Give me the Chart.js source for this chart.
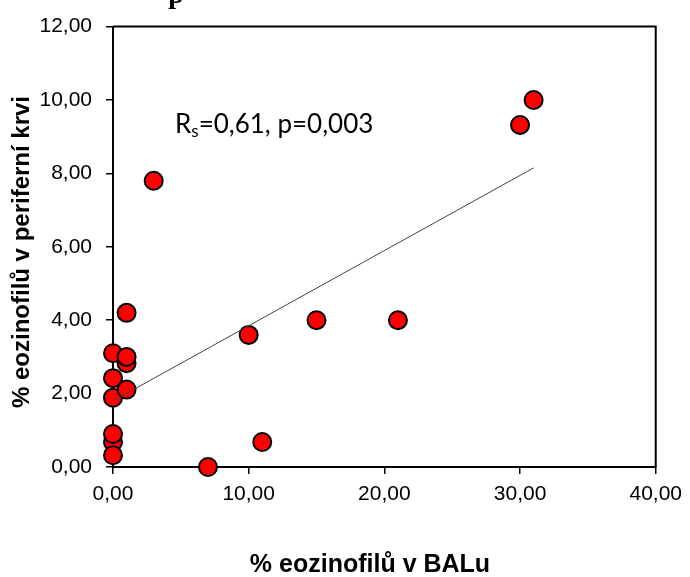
<!DOCTYPE html>
<html><head><meta charset="utf-8">
<script src="https://cdn.jsdelivr.net/npm/chart.js@4/dist/chart.umd.min.js"></script>
<style>html,body{margin:0;padding:0;background:#fff}#wrap{width:690px;height:577px;position:relative}</style>
</head><body><div id="wrap"><canvas id="c"></canvas></div>
<script>
// Data
const balX  = [0, 0, 0, 0, 0, 0, 1, 1, 1, 1, 3, 7, 11, 10, 15, 21, 30, 31];
const krevY = [0.68, 0.32, 0.9, 1.89, 2.42, 3.1, 2.83, 3.0, 2.11, 4.2, 7.8, 0.0, 0.68, 3.6, 4.0, 4.0, 9.32, 10.0];
const trendX = [0, 31];
const trendY = [1.8, 8.15];
const xRange = [0, 40];
const yRange = [0, 12];
const xStep = 10;
const yStep = 2;
const xTitle = '% eozinofilů v BALu';
const yTitle = '% eozinofilů v periferní krvi';
const statMain = 'R';
const statSub = 's';
const statRest = '=0,61, p=0,003';
const chartTitle = 'p';

const fmt = v => Number(v).toFixed(2).replace('.', ',');

const points = balX.map((x, i) => ({x: x, y: krevY[i]}));
const trend = trendX.map((x, i) => ({x: x, y: trendY[i]}));

const extras = {
  id: 'extras',
  beforeDatasetsDraw(chart) {
    const {ctx, chartArea: a} = chart;
    ctx.save();
    ctx.strokeStyle = '#000';
    ctx.lineWidth = 2;
    ctx.beginPath();
    ctx.moveTo(a.left, a.top);
    ctx.lineTo(a.right, a.top);
    ctx.lineTo(a.right, a.bottom);
    ctx.stroke();
    ctx.restore();
  },
  afterDraw(chart) {
    const {ctx} = chart;
    ctx.save();
    ctx.fillStyle = '#000';
    // axis titles
    ctx.font = 'bold 25px "Liberation Sans", Arial, sans-serif';
    ctx.textAlign = 'center';
    ctx.textBaseline = 'middle';
    ctx.fillText(xTitle, 370, 565);
    ctx.save();
    ctx.translate(22, 252);
    ctx.rotate(-Math.PI / 2);
    ctx.font = 'bold 24px "Liberation Sans", Arial, sans-serif';
    ctx.fillText(yTitle, 0, 0);
    ctx.restore();
    // statistic annotation
    ctx.textAlign = 'left';
    ctx.textBaseline = 'alphabetic';
    let x = 175, y = 133;
    ctx.font = '26px Lato, "Open Sans", sans-serif';
    ctx.fillText(statMain, x, y);
    x += ctx.measureText(statMain).width;
    ctx.font = '17px Lato, "Open Sans", sans-serif';
    ctx.fillText(statSub, x, y + 4);
    x += ctx.measureText(statSub).width;
    ctx.font = '26px Lato, "Open Sans", sans-serif';
    ctx.fillText(statRest, x, y);
    // cut-off title
    ctx.textAlign = 'center';
    ctx.font = 'bold 28px "Liberation Serif", serif';
    ctx.fillText(chartTitle, 176, 3);
    ctx.restore();
  }
};

new Chart(document.getElementById('c'), {
  type: 'scatter',
  data: {
    datasets: [
      {
        label: 'body',
        data: points,
        backgroundColor: '#FF0000',
        borderColor: '#000',
        borderWidth: 2,
        pointRadius: 9,
        pointHoverRadius: 9,
        clip: false,
        order: 1
      },
      {
        type: 'line',
        label: 'trend',
        data: trend,
        borderColor: '#444',
        borderWidth: 1,
        pointRadius: 0,
        fill: false,
        order: 0
      }
    ]
  },
  options: {
    responsive: true,
    maintainAspectRatio: false,
    animation: false,
    events: [],
    layout: {padding: {top: 20, right: 31, left: 0, bottom: 0}},
    plugins: {legend: {display: false}, tooltip: {enabled: false}, title: {display: false}},
    scales: {
      x: {
        type: 'linear',
        min: xRange[0], max: xRange[1],
        afterFit: s => { s.height = 110; },
        ticks: {stepSize: xStep, callback: fmt, color: '#000', padding: 8,
                font: {family: '"Liberation Sans", Arial, sans-serif', size: 21}, maxRotation: 0},
        grid: {drawOnChartArea: false, drawTicks: true, tickLength: 7, color: '#000', lineWidth: 1.5},
        border: {display: true, color: '#000', width: 2}
      },
      y: {
        type: 'linear',
        min: yRange[0], max: yRange[1],
        afterFit: s => { s.width = 113; },
        ticks: {stepSize: yStep, callback: fmt, color: '#000', padding: 14,
                font: {family: '"Liberation Sans", Arial, sans-serif', size: 21}},
        grid: {drawOnChartArea: false, drawTicks: true, tickLength: 7, color: '#000', lineWidth: 1.5},
        border: {display: true, color: '#000', width: 2}
      }
    }
  },
  plugins: [extras]
});
</script></body></html>
